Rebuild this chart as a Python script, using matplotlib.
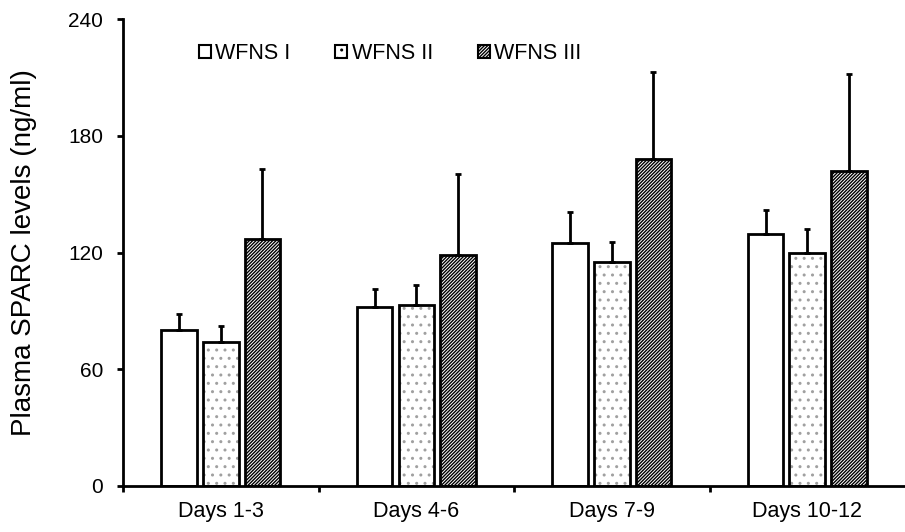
import numpy as np
import matplotlib
matplotlib.use("Agg")
import matplotlib.pyplot as plt

plt.rcParams['font.family'] = ['Liberation Sans', 'DejaVu Sans']
plt.rcParams['hatch.linewidth'] = 1.0

# datos
dias = ['Days 1-3', 'Days 4-6', 'Days 7-9', 'Days 10-12']
grupos = ['WFNS I', 'WFNS II', 'WFNS III']
wfns1 = [80, 92, 125, 129.5]
wfns2 = [74, 93, 115, 119.7]
wfns3 = [127, 118.5, 168, 162]
err1 = [8.5, 9.3, 16, 12.5]
err2 = [8, 10.5, 10.5, 12.3]
err3 = [36, 42, 45, 50]

fig = plt.figure(figsize=(9.05, 5.32), dpi=100)
ax = fig.add_axes([0.136, 0.0865, 0.864, 0.8775])

x = np.arange(len(dias))
ancho = 0.182
paso = 0.213

def barras(pos, vals, errs, hatch, hcolor, label):
    ax.bar(pos, vals, ancho, color='white', edgecolor=hcolor, hatch=hatch,
           linewidth=0, zorder=2)
    ax.bar(pos, vals, ancho, fill=False, edgecolor='black', linewidth=2,
           zorder=3)
    ax.errorbar(pos, vals, yerr=[np.zeros(len(vals)), errs], fmt='none',
                ecolor='black', elinewidth=2, capsize=2, capthick=2, zorder=4)
    # handle de la leyenda
    return plt.Rectangle((0, 0), 1, 1, facecolor='white', edgecolor='black',
                         hatch=hatch, linewidth=1.5, label=label)

h1 = barras(x - paso, wfns1, err1, None, 'black', grupos[0])
h2 = barras(x, wfns2, err2, '..', '#a0a0a0', grupos[1])
h3 = barras(x + paso, wfns3, err3, '//////////', 'black', grupos[2])

ax.set_xlim(-0.5, 3.5)
ax.set_ylim(0, 240)
ax.set_yticks([0, 60, 120, 180, 240])
ax.set_xticks([-0.5, 0.5, 1.5, 2.5])
ax.set_xticklabels([])
ax.set_xticks(x, minor=True)
ax.set_xticklabels(dias, minor=True, fontsize=15.5)
ax.tick_params(axis='x', which='minor', length=0, pad=11)
ax.tick_params(axis='x', which='major', length=4.5, width=2)
ax.tick_params(axis='y', length=4.5, width=2, labelsize=15, pad=10)

for s in ['top', 'right']:
    ax.spines[s].set_visible(False)
ax.spines['left'].set_linewidth(2)
ax.spines['bottom'].set_linewidth(2)

ax.set_ylabel('Plasma SPARC levels (ng/ml)', fontsize=20, labelpad=22)

ax.legend(handles=[h1, h2, h3], loc='upper left', bbox_to_anchor=(0.072, 0.99),
          ncol=3, frameon=False, fontsize=15.5, handlelength=0.55,
          handleheight=0.55, handletextpad=0.2, columnspacing=2.1)

fig.savefig('out.png', dpi=100)
